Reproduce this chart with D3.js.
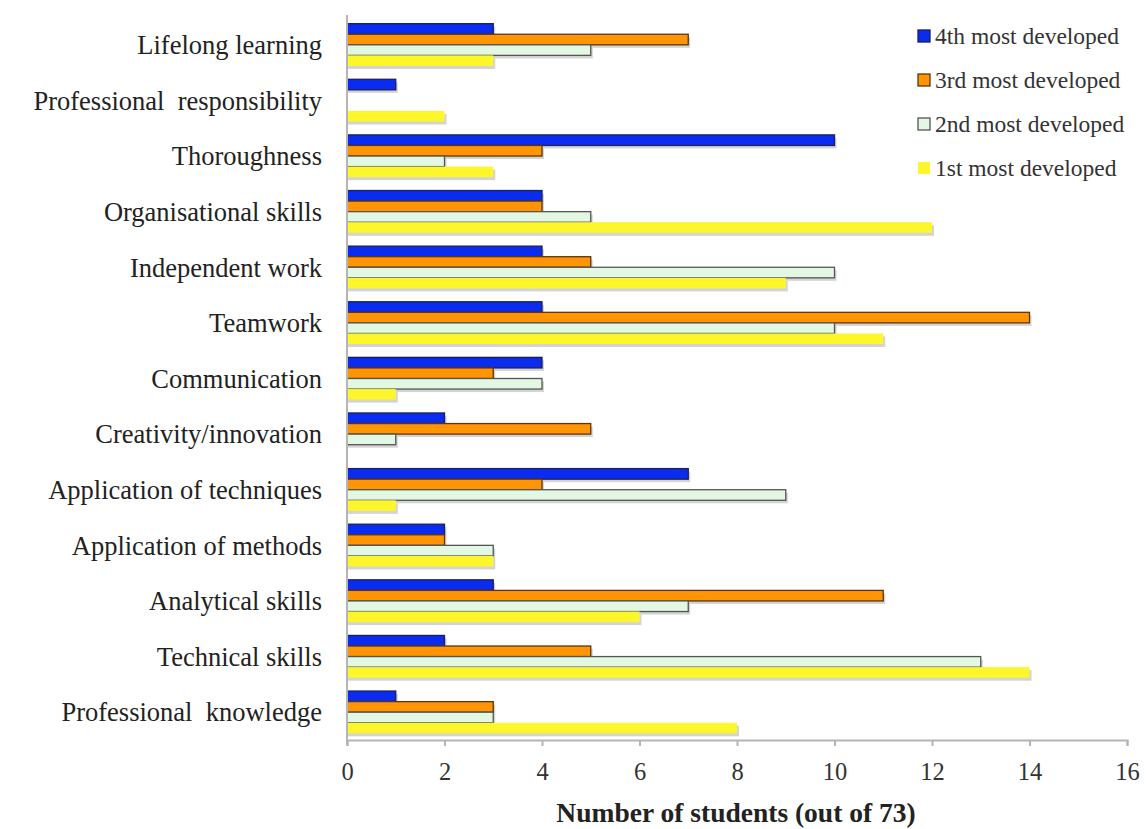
<!DOCTYPE html>
<html>
<head>
<meta charset="utf-8">
<script src="https://d3js.org/d3.v7.min.js"></script>
<style>
  body { margin: 0; background: #fff; }
  text { font-family: "Liberation Serif", "Times New Roman", serif; }
</style>
</head>
<body>
<div class="chart"></div>
<script>
// data
var categories = ["Lifelong learning", "Professional  responsibility", "Thoroughness",
  "Organisational skills", "Independent work", "Teamwork", "Communication",
  "Creativity/innovation", "Application of techniques", "Application of methods",
  "Analytical skills", "Technical skills", "Professional  knowledge"];

var seriesNames = ["4th most developed", "3rd most developed", "2nd most developed", "1st most developed"];

var fourth = [3, 1, 10, 4, 4, 4, 4, 2, 7, 2, 3, 2, 1];
var third  = [7, 0, 4, 4, 5, 14, 3, 5, 4, 2, 11, 5, 3];
var second = [5, 0, 2, 5, 10, 10, 4, 1, 9, 3, 7, 13, 3];
var first  = [3, 2, 3, 12, 9, 11, 1, 0, 1, 3, 6, 14, 8];

var xTicks = [0, 2, 4, 6, 8, 10, 12, 14, 16];

var fills = ["#0a2cf0", "#ff9505", "#e2f8e2", "#fdf62a"];
var strokes = ["#1a1f5c", "#5a3510", "#555555", "none"];

var svgWidth = 1146;
var svgHeight = 829;
var margin = { top: 17, right: 19, bottom: 89, left: 347 };
var width = svgWidth - margin.left - margin.right;
var height = svgHeight - margin.top - margin.bottom;

var svg = d3.select(".chart").append("svg")
  .attr("width", svgWidth)
  .attr("height", svgHeight);

var chartGroup = svg.append("g")
  .attr("transform", `translate(${margin.left}, ${margin.top})`);

var xScale = d3.scaleLinear().domain([0, 16]).range([0, width]);
var yScale = d3.scaleBand().domain(categories).range([0, height])
  .paddingInner(0.24).paddingOuter(0.12);
var inner = d3.scaleBand().domain(d3.range(4)).range([0, yScale.bandwidth()]);

var rows = categories.map(function(c, i) {
  return { cat: c, vals: [fourth[i], third[i], second[i], first[i]] };
});

// bars (shadow first, then bar)
var groups = chartGroup.selectAll(".cat")
  .data(rows)
  .enter()
  .append("g")
  .attr("transform", d => `translate(0, ${yScale(d.cat)})`);

groups.selectAll(".shadow")
  .data(d => d.vals.map((v, k) => ({ v: v, k: k })).filter(e => e.v > 0))
  .enter()
  .append("rect")
  .attr("x", 1)
  .attr("y", e => inner(e.k) + 3)
  .attr("width", e => xScale(e.v) + 1)
  .attr("height", inner.bandwidth())
  .attr("fill", "#d4d4d4");

groups.selectAll(".bar")
  .data(d => d.vals.map((v, k) => ({ v: v, k: k })).filter(e => e.v > 0))
  .enter()
  .append("rect")
  .attr("x", 0)
  .attr("y", e => inner(e.k))
  .attr("width", e => xScale(e.v))
  .attr("height", inner.bandwidth())
  .attr("fill", e => fills[e.k])
  .attr("stroke", e => strokes[e.k])
  .attr("stroke-width", 1.3);

// axes
chartGroup.append("line")
  .attr("x1", 0).attr("x2", 0).attr("y1", -2).attr("y2", height + 5)
  .attr("stroke", "#b5b5b5").attr("stroke-width", 2);

var bottomAxis = d3.axisBottom(xScale).tickValues(xTicks).tickSize(6).tickPadding(17);
var xAxis = chartGroup.append("g")
  .attr("transform", `translate(0, ${height})`)
  .call(bottomAxis);
xAxis.select(".domain").attr("stroke", "#b5b5b5").attr("stroke-width", 2);
xAxis.selectAll(".tick line").attr("stroke", "#b5b5b5").attr("stroke-width", 2);
xAxis.selectAll(".tick text")
  .style("font-family", "'Liberation Serif', serif")
  .attr("font-size", 24.5)
  .attr("fill", "#333");

// category labels
chartGroup.selectAll(".catLabel")
  .data(categories)
  .enter()
  .append("text")
  .attr("x", -25)
  .attr("y", d => yScale(d) + yScale.bandwidth() / 2)
  .attr("dy", "0.35em")
  .attr("text-anchor", "end")
  .attr("font-size", 26.5)
  .attr("fill", "#222")
  .style("white-space", "pre")
  .text(d => d);

// x axis title
svg.append("text")
  .attr("x", margin.left + width / 2 - 1)
  .attr("y", 822)
  .attr("text-anchor", "middle")
  .attr("font-size", 27.5)
  .attr("font-weight", "bold")
  .attr("fill", "#222")
  .text("Number of students (out of 73)");

// legend
var legend = svg.append("g").attr("transform", "translate(918, 30)");
var items = legend.selectAll("g")
  .data(seriesNames)
  .enter()
  .append("g")
  .attr("transform", (d, i) => `translate(0, ${i * 44})`);

items.append("rect")
  .attr("x", 0).attr("y", 0)
  .attr("width", 12).attr("height", 12)
  .attr("fill", (d, i) => fills[i])
  .attr("stroke", (d, i) => strokes[i])
  .attr("stroke-width", 1.3);

items.append("text")
  .attr("x", 17)
  .attr("y", 6)
  .attr("dy", "0.35em")
  .attr("font-size", 23.5)
  .attr("fill", "#333")
  .text(d => d);
</script>
</body>
</html>
